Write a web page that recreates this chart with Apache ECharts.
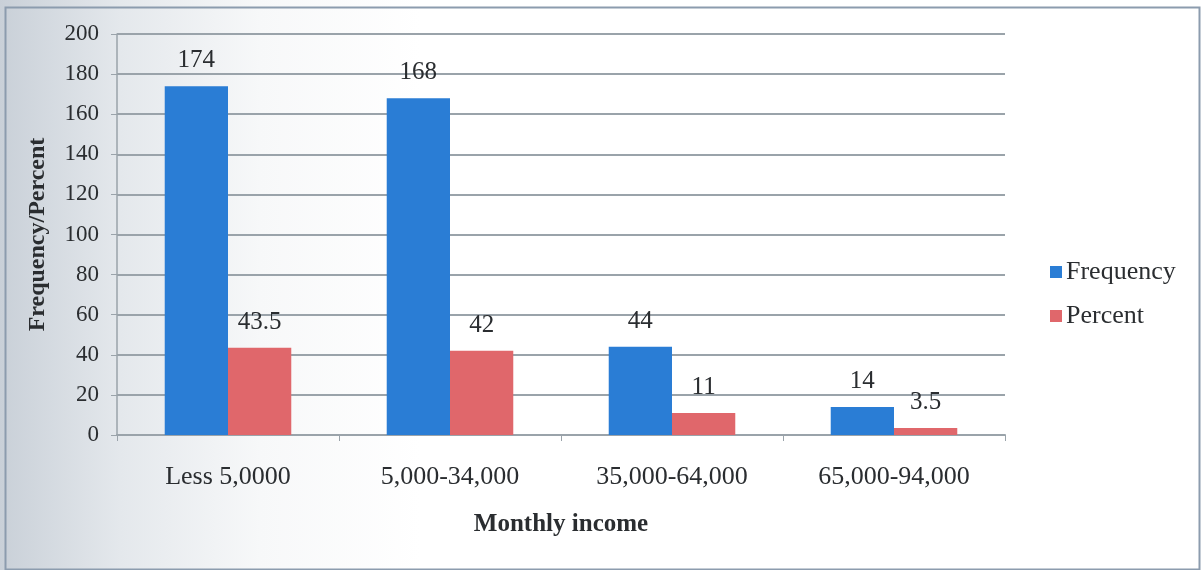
<!DOCTYPE html>
<html>
<head>
<meta charset="utf-8">
<title>Monthly income</title>
<script src="https://cdn.jsdelivr.net/npm/echarts@6/dist/echarts.min.js"></script>
<style>
  html, body { margin: 0; padding: 0; }
  body {
    width: 1204px; height: 570px; overflow: hidden;
    background: linear-gradient(to right, #c9d0d8 0px, #e4e8ec 120px, #f7f8f9 260px, #ffffff 420px);
  }
  #chart { width: 1204px; height: 570px; }
</style>
</head>
<body>
<div id="chart"></div>
<script>
// Income brackets and the counts / shares of respondents in each
const categories = ['Less 5,0000', '5,000-34,000', '35,000-64,000', '65,000-94,000'];
const frequency = [174, 168, 44, 14];
const percent = [43.5, 42, 11, 3.5];
const yTicks = { min: 0, max: 200, interval: 20 };

const serif = '"Liberation Serif", "DejaVu Serif", serif';
const textColor = '#2a2d30';
const gridColor = '#9aa3aa';

const chart = echarts.init(document.getElementById('chart'), null, { renderer: 'canvas' });

const valueLabel = {
  show: true,
  position: 'top',
  distance: 13,
  fontFamily: serif,
  fontSize: 25,
  color: textColor
};

chart.setOption({
  animation: false,
  backgroundColor: 'transparent',
  textStyle: { fontFamily: serif },
  graphic: [{
    type: 'rect',
    left: 3, top: 5,
    shape: { width: 1194, height: 562 },
    style: { fill: 'none', stroke: '#8c9cae', lineWidth: 2 },
    silent: true
  }],
  grid: { left: 117, right: 199, top: 34, bottom: 135, containLabel: false },
  legend: {
    orient: 'vertical',
    left: 1045,
    top: 254,
    itemWidth: 12,
    itemHeight: 12,
    itemGap: 18,
    icon: 'rect',
    textStyle: { fontFamily: serif, fontSize: 26, color: textColor, padding: [0, 0, 0, -1] },
    data: ['Frequency', 'Percent']
  },
  xAxis: {
    type: 'category',
    data: categories,
    boundaryGap: true,
    name: 'Monthly income',
    nameLocation: 'middle',
    nameGap: 77,
    nameTextStyle: { fontFamily: serif, fontSize: 25, fontWeight: 'bold', color: textColor },
    axisLine: { show: true, lineStyle: { color: gridColor, width: 2 } },
    axisTick: { show: true, alignWithLabel: false, length: 6, lineStyle: { color: gridColor, width: 1 } },
    axisLabel: { fontFamily: serif, fontSize: 26, color: textColor, margin: 29, interval: 0 },
    splitLine: { show: false }
  },
  yAxis: {
    type: 'value',
    min: yTicks.min,
    max: yTicks.max,
    interval: yTicks.interval,
    name: 'Frequency/Percent',
    nameLocation: 'middle',
    nameGap: 67,
    nameRotate: 90,
    nameTextStyle: { fontFamily: serif, fontSize: 24, fontWeight: 'bold', color: textColor },
    axisLine: { show: true, lineStyle: { color: gridColor, width: 1.5 } },
    axisTick: { show: true, length: 6, lineStyle: { color: gridColor, width: 1 } },
    axisLabel: { fontFamily: serif, fontSize: 23, color: textColor, margin: 18 },
    splitLine: { show: true, lineStyle: { color: gridColor, width: 2 } }
  },
  series: [
    {
      name: 'Frequency',
      type: 'bar',
      data: frequency,
      barGap: '0%',
      barCategoryGap: '43%',
      itemStyle: { color: '#2a7dd5' },
      label: valueLabel
    },
    {
      name: 'Percent',
      type: 'bar',
      data: percent,
      itemStyle: { color: '#e0676b' },
      label: valueLabel
    }
  ]
});
</script>
</body>
</html>
